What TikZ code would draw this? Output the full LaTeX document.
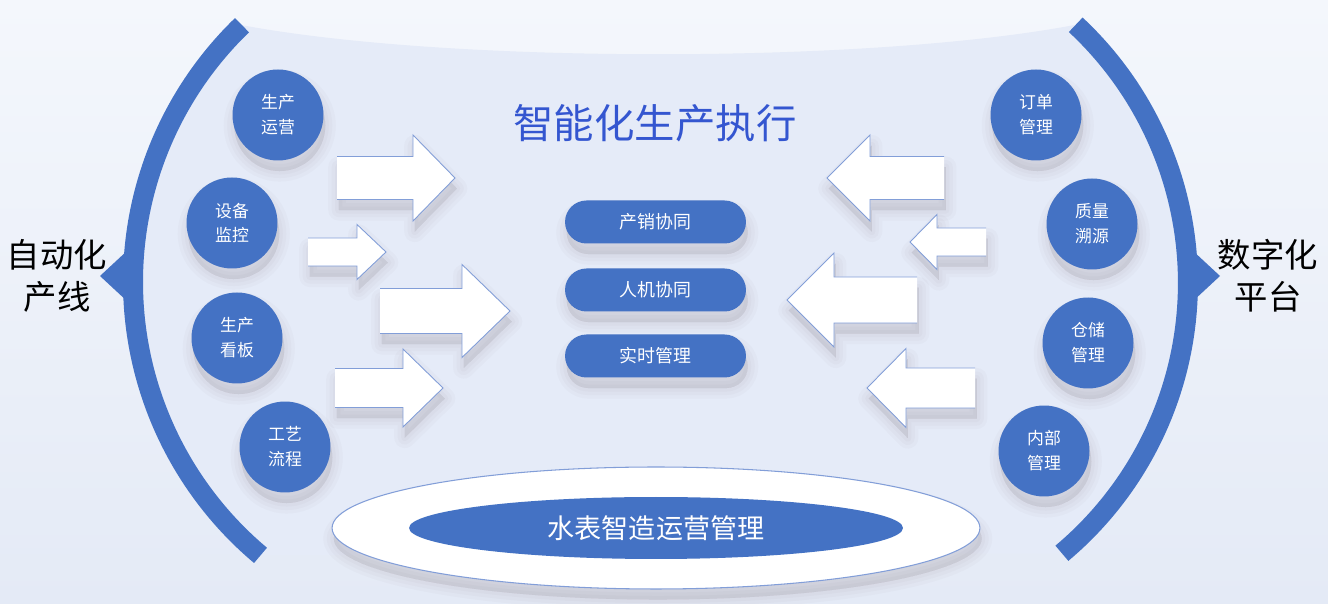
\documentclass[tikz,border=0pt]{standalone}
\usepackage{fontspec}
\setmainfont{Noto Sans CJK SC}
\usepackage{xcolor}
\usepackage{tikz}
\usetikzlibrary{shapes.geometric,shadows}

\definecolor{mainblue}{RGB}{68,114,196}
\definecolor{titleblue}{RGB}{52,86,208}
\definecolor{edgeblue}{RGB}{130,158,216}
\definecolor{bgtop}{RGB}{244,247,252}
\definecolor{bgbottom}{RGB}{228,234,246}
\definecolor{innerbg}{RGB}{229,235,248}
\definecolor{shadowtone}{RGB}{90,70,80}

\tikzset{
  shadowlayer/.style={general shadow={shadow xshift=1pt, shadow yshift=-6pt, fill=shadowtone, draw=shadowtone, line join=round, line width=#1, opacity=0.028}},
  softshadow/.style={shadowlayer=12pt, shadowlayer=8pt, shadowlayer=4pt, shadowlayer=0.1pt},
  bubble/.style={circle, fill=mainblue, minimum size=1.82cm, inner sep=0pt, text=white, align=center, font=\fontsize{9.6}{14.2}\selectfont, softshadow},
  pill/.style={rectangle, rounded corners=0.43cm, fill=mainblue, minimum width=3.62cm, minimum height=0.86cm, text=white, font=\fontsize{10.2}{12}\selectfont, softshadow},
  sidelabel/.style={align=center, font=\fontsize{19}{24}\selectfont},
  band/.style={mainblue, line width=0.4cm},
}

% back x, head base x, tip x, middle y, half shaft, half head
\newcommand{\fatarrow}[6]{%
  \fill[white, softshadow] (#1,#4+#5) -- (#2,#4+#5) -- (#2,#4+#6) -- (#3,#4) -- (#2,#4-#6) -- (#2,#4-#5) -- (#1,#4-#5) -- cycle;
  \draw[edgeblue, line width=0.5pt] (#1,#4+#5) -- (#2,#4+#5) -- (#2,#4+#6) -- (#3,#4) -- (#2,#4-#6) -- (#2,#4-#5) -- (#1,#4-#5);
}

\begin{document}
\begin{tikzpicture}[x=0.02cm, y=0.02cm]
    % Background
    \shade[top color=bgtop, bottom color=bgbottom] (0,0) rectangle (1328,604);
    \useasboundingbox (0,0) rectangle (1328,604);

    % Inner area between the two arcs
    \fill[innerbg] (242,578.8) .. controls (450,540) and (870,540) .. (1075.7,579.2)
        arc[start angle=47, end angle=-50, radius=7.06cm] -- (260.5,48.5)
        arc[start angle=230, end angle=134, radius=7.14cm] -- cycle;

    % The two arcs with their pointers
    \draw[band] (242,578.8) arc[start angle=134, end angle=230, radius=7.14cm];
    \draw[band] (1075.7,579.2) arc[start angle=47, end angle=-50, radius=7.06cm];
    \fill[mainblue] (100,328) -- (128,354) -- (128,302) -- cycle;
    \fill[mainblue] (1220,328) -- (1192,354) -- (1192,302) -- cycle;

    % Side labels
    \node[sidelabel] (autoline) at (57,328) {自动化\\产线};
    \node[sidelabel] (platform) at (1268,328) {数字化\\平台};

    % Title
    \node[text=titleblue, font=\fontsize{23}{26}\selectfont] (title) at (655,481) {智能化生产执行};

    % Arrows from the left
    \fatarrow{337}{413}{455}{426}{21.5}{43}
    \fatarrow{308}{357}{386}{352}{14}{27.5}
    \fatarrow{380}{462}{510}{293}{22.5}{46.5}
    \fatarrow{335}{403}{443}{216}{19.5}{39}

    % Arrows from the right
    \fatarrow{944}{870}{827}{426}{21.5}{43}
    \fatarrow{986}{937}{910}{362}{14}{27.5}
    \fatarrow{917}{834}{787}{304}{23}{47}
    \fatarrow{975}{906}{867}{216}{20}{39.5}

    % Left circles
    \node[bubble] (ops) at (278,489) {生产\\运营};
    \node[bubble] (monitor) at (232,381) {设备\\监控};
    \node[bubble] (board) at (237,266) {生产\\看板};
    \node[bubble] (process) at (285,157) {工艺\\流程};

    % Right circles
    \node[bubble] (order) at (1036,489) {订单\\管理};
    \node[bubble] (quality) at (1092,380) {质量\\溯源};
    \node[bubble] (storage) at (1088,261) {仓储\\管理};
    \node[bubble] (internal) at (1044,153) {内部\\管理};

    % Middle pills
    \node[pill] (sales) at (655.5,382) {产销协同};
    \node[pill] (hmi) at (655.5,314) {人机协同};
    \node[pill] (realtime) at (655.5,248) {实时管理};

    % Bottom platform
    \node[ellipse, fill=white, draw=edgeblue, line width=0.6pt, minimum width=12.96cm, minimum height=2.44cm, softshadow] (base) at (656,76) {};
    \node[ellipse, fill=mainblue, minimum width=9.88cm, minimum height=1.24cm, text=white, font=\fontsize{15.4}{18}\selectfont] (watch) at (656,76) {水表智造运营管理};
\end{tikzpicture}
\end{document}
